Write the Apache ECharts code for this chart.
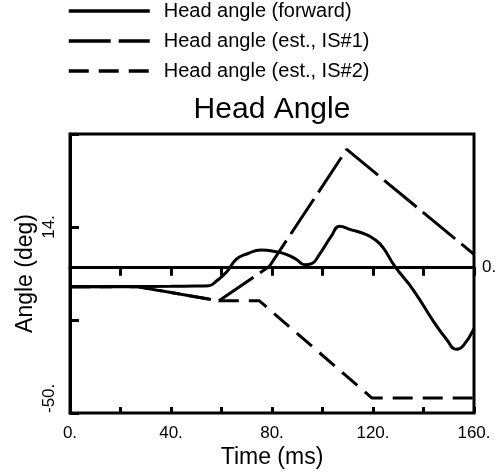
<!DOCTYPE html>
<html><head><meta charset="utf-8">
<script src="https://cdn.jsdelivr.net/npm/echarts@6/dist/echarts.min.js"></script>
<style>html,body{margin:0;padding:0;background:#fff}#c{width:502px;height:474px}</style>
</head><body><div id="c"></div>
<script>
const seriesNames = ['Head angle (forward)', 'Head angle (est., IS#1)', 'Head angle (est., IS#2)'];
const forwardT = [0, 20, 40, 50, 55, 58, 62, 66, 70, 75.7, 81.7, 85.6, 89.6, 92.9, 95.7, 98.8, 103.5, 106.8, 110.8, 117.4, 120.7, 124, 128.6, 135.9, 143.8, 149.1, 153.1, 155.7, 160];
const forwardV = [-6.6, -6.5, -6.4, -6.3, -6.2, -4.6, -1.5, 3.0, 4.7, 6.1, 5.5, 4.6, 2.9, 1.0, 1.4, 4.6, 10.9, 14.3, 13.2, 11.4, 9.7, 6.9, 0.5, -7.6, -18.3, -24.6, -28.1, -26.9, -21];
const is1T = [0, 27, 59, 79, 109.6, 160];
const is1V = [-6.6, -6.6, -11.4, 0.5, 40.7, 4.6];
const is2T = [0, 27, 59, 75, 119.5, 160];
const is2V = [-6.6, -6.6, -11.4, -11.4, -44.8, -44.8];
const xTickLabels = {0: '0.', 40: '40.', 80: '80.', 120: '120.', 160: '160.'};
const yTickLabels = {14: '14.', '-50': '-50.'};
const zeroLabel = '0.';

const pairs = (t, v) => t.map((x, i) => [x, v[i]]);
const FONT = 'Liberation Sans, Arial, Helvetica, sans-serif';
const chart = echarts.init(document.getElementById('c'), null, {renderer: 'canvas'});
const xBase = {type: 'value', min: 0, max: 160, interval: 20, position: 'bottom'};
chart.setOption({
  animation: false,
  backgroundColor: '#fff',
  title: {text: 'Head Angle', left: 267, textAlign: 'center', top: 90,
    textStyle: {fontFamily: FONT, fontSize: 30, fontWeight: 'normal', color: '#000'}},
  legend: {orient: 'vertical', left: 67, top: 1, padding: 0, itemWidth: 81, itemHeight: 14, itemGap: 10,
    data: seriesNames,
    itemStyle: {opacity: 0},
    lineStyle: {width: 3.5},
    textStyle: {fontFamily: FONT, fontSize: 20, color: '#000', padding: [0, 0, 0, 9]}},
  grid: {left: 70, right: 28, top: 134, bottom: 60, show: true, borderColor: '#000', borderWidth: 3, backgroundColor: 'transparent'},
  xAxis: [
    Object.assign({}, xBase, {
      name: 'Time (ms)', nameLocation: 'middle', nameGap: 33, nameMoveOverlap: false,
      nameTextStyle: {fontFamily: FONT, fontSize: 23, color: '#000'},
      axisLine: {lineStyle: {color: '#000', width: 3}},
      axisTick: {inside: false, length: 8, lineStyle: {color: '#000', width: 3}},
      splitLine: {show: false},
      axisLabel: {margin: 12, fontFamily: FONT, fontSize: 17, color: '#000',
        formatter: v => xTickLabels[v] !== undefined ? xTickLabels[v] : ''}
    }),
    Object.assign({}, xBase, {
      axisLine: {show: false},
      axisTick: {inside: true, length: 6, lineStyle: {color: '#000', width: 3}},
      splitLine: {show: false}, axisLabel: {show: false}
    })
  ],
  yAxis: {
    type: 'value', min: -50, max: 46, interval: 32,
    name: 'Angle (deg)', nameLocation: 'middle', nameGap: 33, nameRotate: 90, nameMoveOverlap: false,
    nameTextStyle: {fontFamily: FONT, fontSize: 23, color: '#000'},
    axisLine: {lineStyle: {color: '#000', width: 3}},
    axisTick: {inside: true, length: 9, lineStyle: {color: '#000', width: 3}},
    splitLine: {show: false},
    axisLabel: {rotate: 90, margin: 12, fontFamily: FONT, fontSize: 17, color: '#000',
      alignMinLabel: 'left',
      formatter: v => yTickLabels[v] !== undefined ? yTickLabels[v] : ''}
  },
  series: [
    {name: seriesNames[0], type: 'line', data: pairs(forwardT, forwardV), symbol: 'none',
     smooth: 0.5,
     lineStyle: {color: '#000', width: 3, type: 'solid'}, itemStyle: {color: '#000'},
     markLine: {silent: true, symbol: 'none', data: [{yAxis: 0}],
       lineStyle: {color: '#000', width: 3, type: 'solid'},
       label: {show: true, position: 'end', distance: 8, formatter: zeroLabel, fontFamily: FONT, fontSize: 17, color: '#000'}}},
    {name: seriesNames[1], type: 'line', data: pairs(is1T, is1V), symbol: 'none',
     lineStyle: {color: '#000', width: 3, type: [42, 8]}, itemStyle: {color: '#000'}},
    {name: seriesNames[2], type: 'line', data: pairs(is2T, is2V), symbol: 'none',
     lineStyle: {color: '#000', width: 3, type: [20, 10]}, itemStyle: {color: '#000'}}
  ]
});
</script></body></html>
